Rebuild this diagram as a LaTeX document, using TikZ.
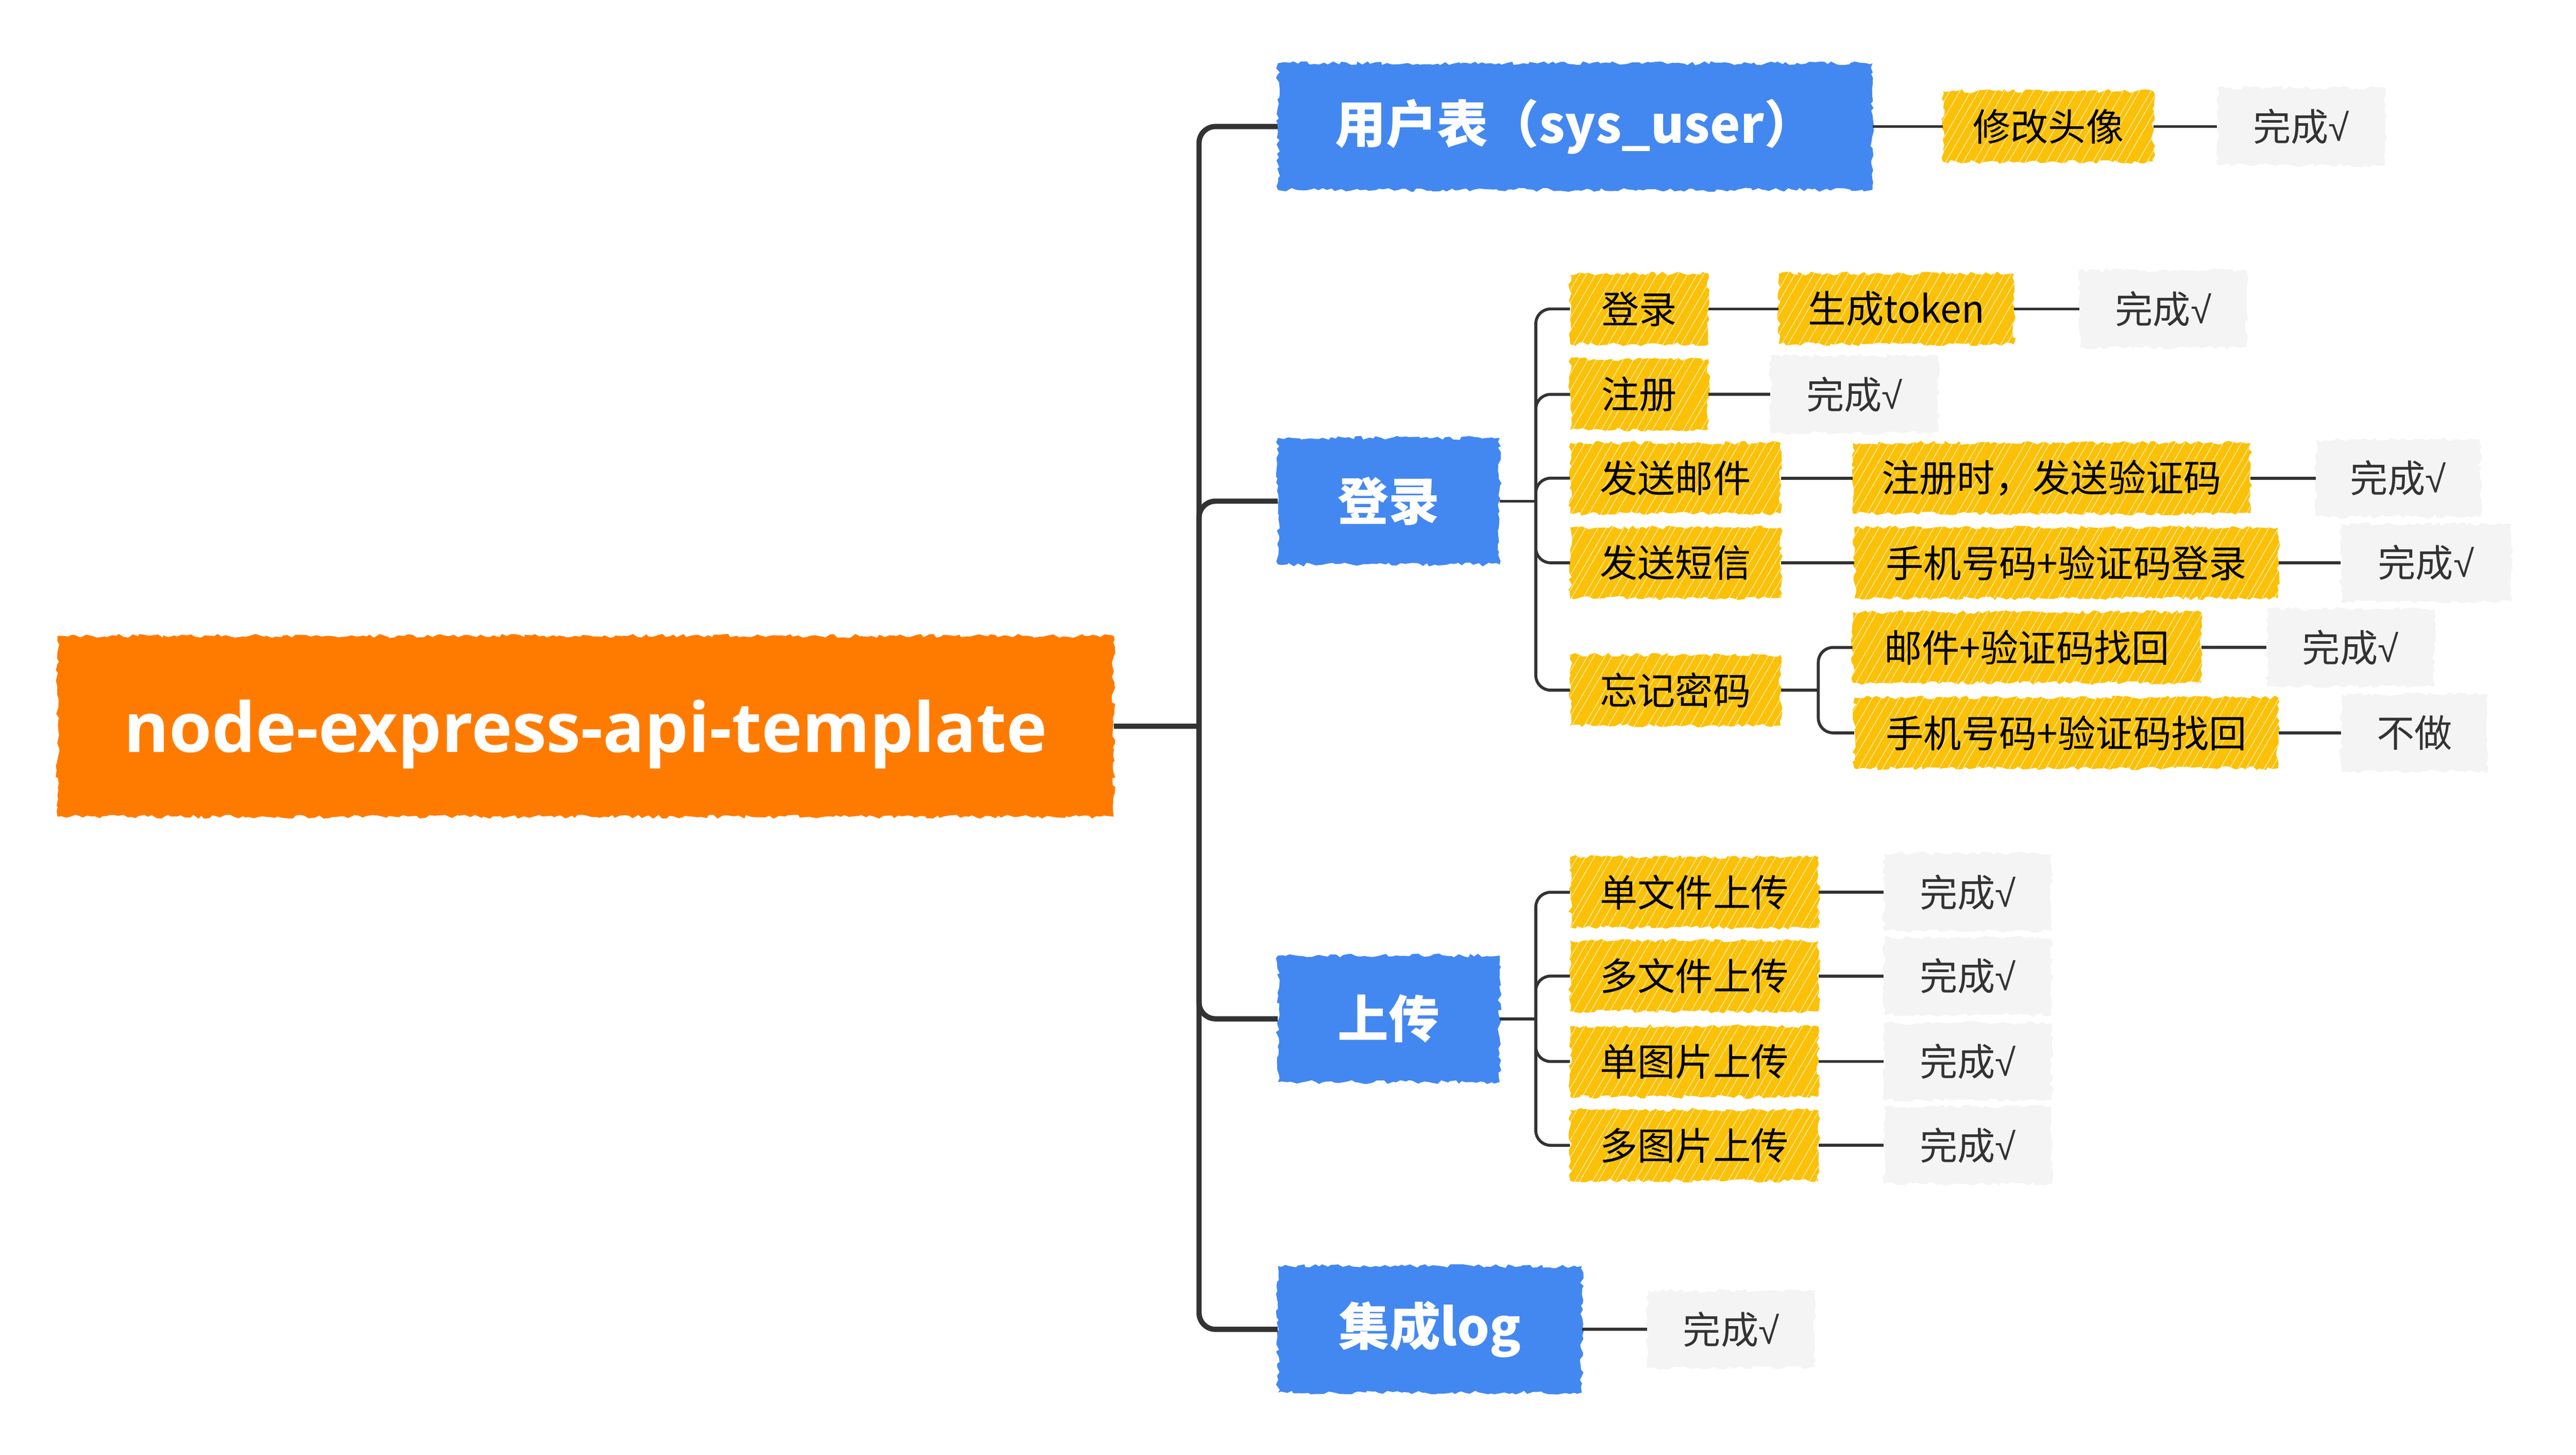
\documentclass[tikz,border=0pt]{standalone}
\usepackage{fontspec}
\setmainfont{Noto Sans CJK SC}
\newfontfamily\rootfont{Open Sans}
\newfontfamily\chkfont{Liberation Sans}
\newcommand{\tick}{{\chkfont √}}
\usetikzlibrary{decorations.pathmorphing}
\definecolor{orangeC}{HTML}{FF7B00}
\definecolor{blueC}{HTML}{4388F0}
\definecolor{yellowC}{HTML}{FAC108}
\definecolor{grayC}{HTML}{F4F4F4}
\definecolor{lineC}{HTML}{333333}
\definecolor{textC}{HTML}{333333}
\begin{document}
\begin{tikzpicture}[x=1pt,y=-1pt,
  rough/.style={decorate,decoration={random steps,segment length=2.5pt,amplitude=1.2pt}},
  rootbox/.style={rough, fill=orangeC, text=white, font=\rootfont\bfseries\fontsize{42}{50}\selectfont, inner sep=0pt},
  mainbox/.style={rough, fill=blueC, text=white, font=\bfseries\fontsize{31}{37}\selectfont, inner sep=0pt, minimum height=77pt},
  subbox/.style={rough, fill=yellowC, text=black, font=\fontsize{23}{28}\selectfont, inner sep=0pt, minimum height=43pt,
    path picture={
      \foreach \k in {0,...,62}{
        \pgfmathsetmacro{\dx}{\k*5.5-60+rnd*3}
        \draw[yellowC!35!white, line width=0.45pt]
          ([xshift=\dx pt]path picture bounding box.south west) -- ++(32,-55);
      }
    }},
  donebox/.style={rough, fill=grayC, text=textC, font=\fontsize{23}{28}\selectfont, inner sep=0pt, minimum height=47pt},
  trunk/.style={draw=lineC, line width=3.2pt, rounded corners=10pt},
  branch/.style={draw=lineC, line width=1.8pt, rounded corners=9pt},
]
\pgfmathsetseed{7}
\path[fill=white] (0,0) rectangle (1568.3,885.4);
\useasboundingbox (0,0) rectangle (1568.3,885.4);

% root
\node[rootbox, minimum width=643pt, minimum height=110pt] (root) at (356.5,442) {\raisebox{-5pt}[\height][\depth]{node-express-api-template}};

% main topics
\node[mainbox, minimum width=362pt] (u1) at (959,77) {用户表（sys\_user）};
\node[mainbox, minimum width=135pt] (u2) at (845.5,305) {登录};
\node[mainbox, minimum width=135pt] (u3) at (845.5,620) {上传};
\node[mainbox, minimum width=185pt] (u4) at (870.5,809) {集成log};

% 用户表
\node[subbox, minimum width=128pt] (a1) at (1247,77) {修改头像};
\node[donebox, minimum width=102pt] (a1d) at (1401,77) {完成\tick};

% 登录
\node[subbox, minimum width=84pt] (b1) at (998,188) {登录};
\node[subbox, minimum width=143pt] (b1a) at (1154.5,188) {生成token};
\node[donebox, minimum width=102pt] (b1d) at (1317,188) {完成\tick};
\node[subbox, minimum width=84pt] (b2) at (998,240) {注册};
\node[donebox, minimum width=102pt] (b2d) at (1129,240) {完成\tick};
\node[subbox, minimum width=128pt] (b3) at (1020,291) {发送邮件};
\node[subbox, minimum width=242pt] (b3a) at (1249,291) {注册时，发送验证码};
\node[donebox, minimum width=100pt] (b3d) at (1460,291) {完成\tick};
\node[subbox, minimum width=128pt] (b4) at (1020,342.5) {发送短信};
\node[subbox, minimum width=258pt] (b4a) at (1258,342.5) {手机号码+验证码登录};
\node[donebox, minimum width=104pt] (b4d) at (1477,342.5) {完成\tick};
\node[subbox, minimum width=128pt] (b5) at (1020,420) {忘记密码};
\node[subbox, minimum width=212pt] (b5a) at (1234,394) {邮件+验证码找回};
\node[donebox, minimum width=102pt] (b5ad) at (1431,394) {完成\tick};
\node[subbox, minimum width=258pt] (b5b) at (1258,446) {手机号码+验证码找回};
\node[donebox, minimum width=89pt] (b5bd) at (1470,446) {不做};

% 上传
\node[subbox, minimum width=151pt] (c1) at (1031.5,543) {单文件上传};
\node[donebox, minimum width=102pt] (c1d) at (1198,543) {完成\tick};
\node[subbox, minimum width=151pt] (c2) at (1031.5,594) {多文件上传};
\node[donebox, minimum width=102pt] (c2d) at (1198,594) {完成\tick};
\node[subbox, minimum width=151pt] (c3) at (1031.5,646) {单图片上传};
\node[donebox, minimum width=102pt] (c3d) at (1198,646) {完成\tick};
\node[subbox, minimum width=151pt] (c4) at (1031.5,697) {多图片上传};
\node[donebox, minimum width=102pt] (c4d) at (1198,697) {完成\tick};

% 集成log
\node[donebox, minimum width=102pt] (d1d) at (1054,809) {完成\tick};

% trunk
\coordinate (J0) at (730,442);
\draw[trunk] (root.east) -- (J0);
\foreach \n in {u1,u2,u3,u4} \draw[trunk] (J0) |- (\n.west);

% 用户表 links
\draw[branch] (u1.east) -- (a1.west);
\draw[branch] (a1.east) -- (a1d.west);

% 登录 links
\coordinate (J2) at (935,305);
\draw[branch] (u2.east) -- (J2);
\foreach \n in {b1,b2,b3,b4,b5} \draw[branch] (J2) |- (\n.west);
\draw[branch] (b1.east) -- (b1a.west);
\draw[branch] (b1a.east) -- (b1d.west);
\draw[branch] (b2.east) -- (b2d.west);
\draw[branch] (b3.east) -- (b3a.west);
\draw[branch] (b3a.east) -- (b3d.west);
\draw[branch] (b4.east) -- (b4a.west);
\draw[branch] (b4a.east) -- (b4d.west);
\coordinate (J3) at (1107,420);
\draw[branch] (b5.east) -- (J3);
\draw[branch] (J3) |- (b5a.west);
\draw[branch] (J3) |- (b5b.west);
\draw[branch] (b5a.east) -- (b5ad.west);
\draw[branch] (b5b.east) -- (b5bd.west);

% 上传 links
\coordinate (J4) at (935,620);
\draw[branch] (u3.east) -- (J4);
\foreach \n in {c1,c2,c3,c4} \draw[branch] (J4) |- (\n.west);
\foreach \n in {c1,c2,c3,c4} \draw[branch] (\n.east) -- (\n d.west);

% 集成log link
\draw[branch] (u4.east) -- (d1d.west);
\end{tikzpicture}
\end{document}
